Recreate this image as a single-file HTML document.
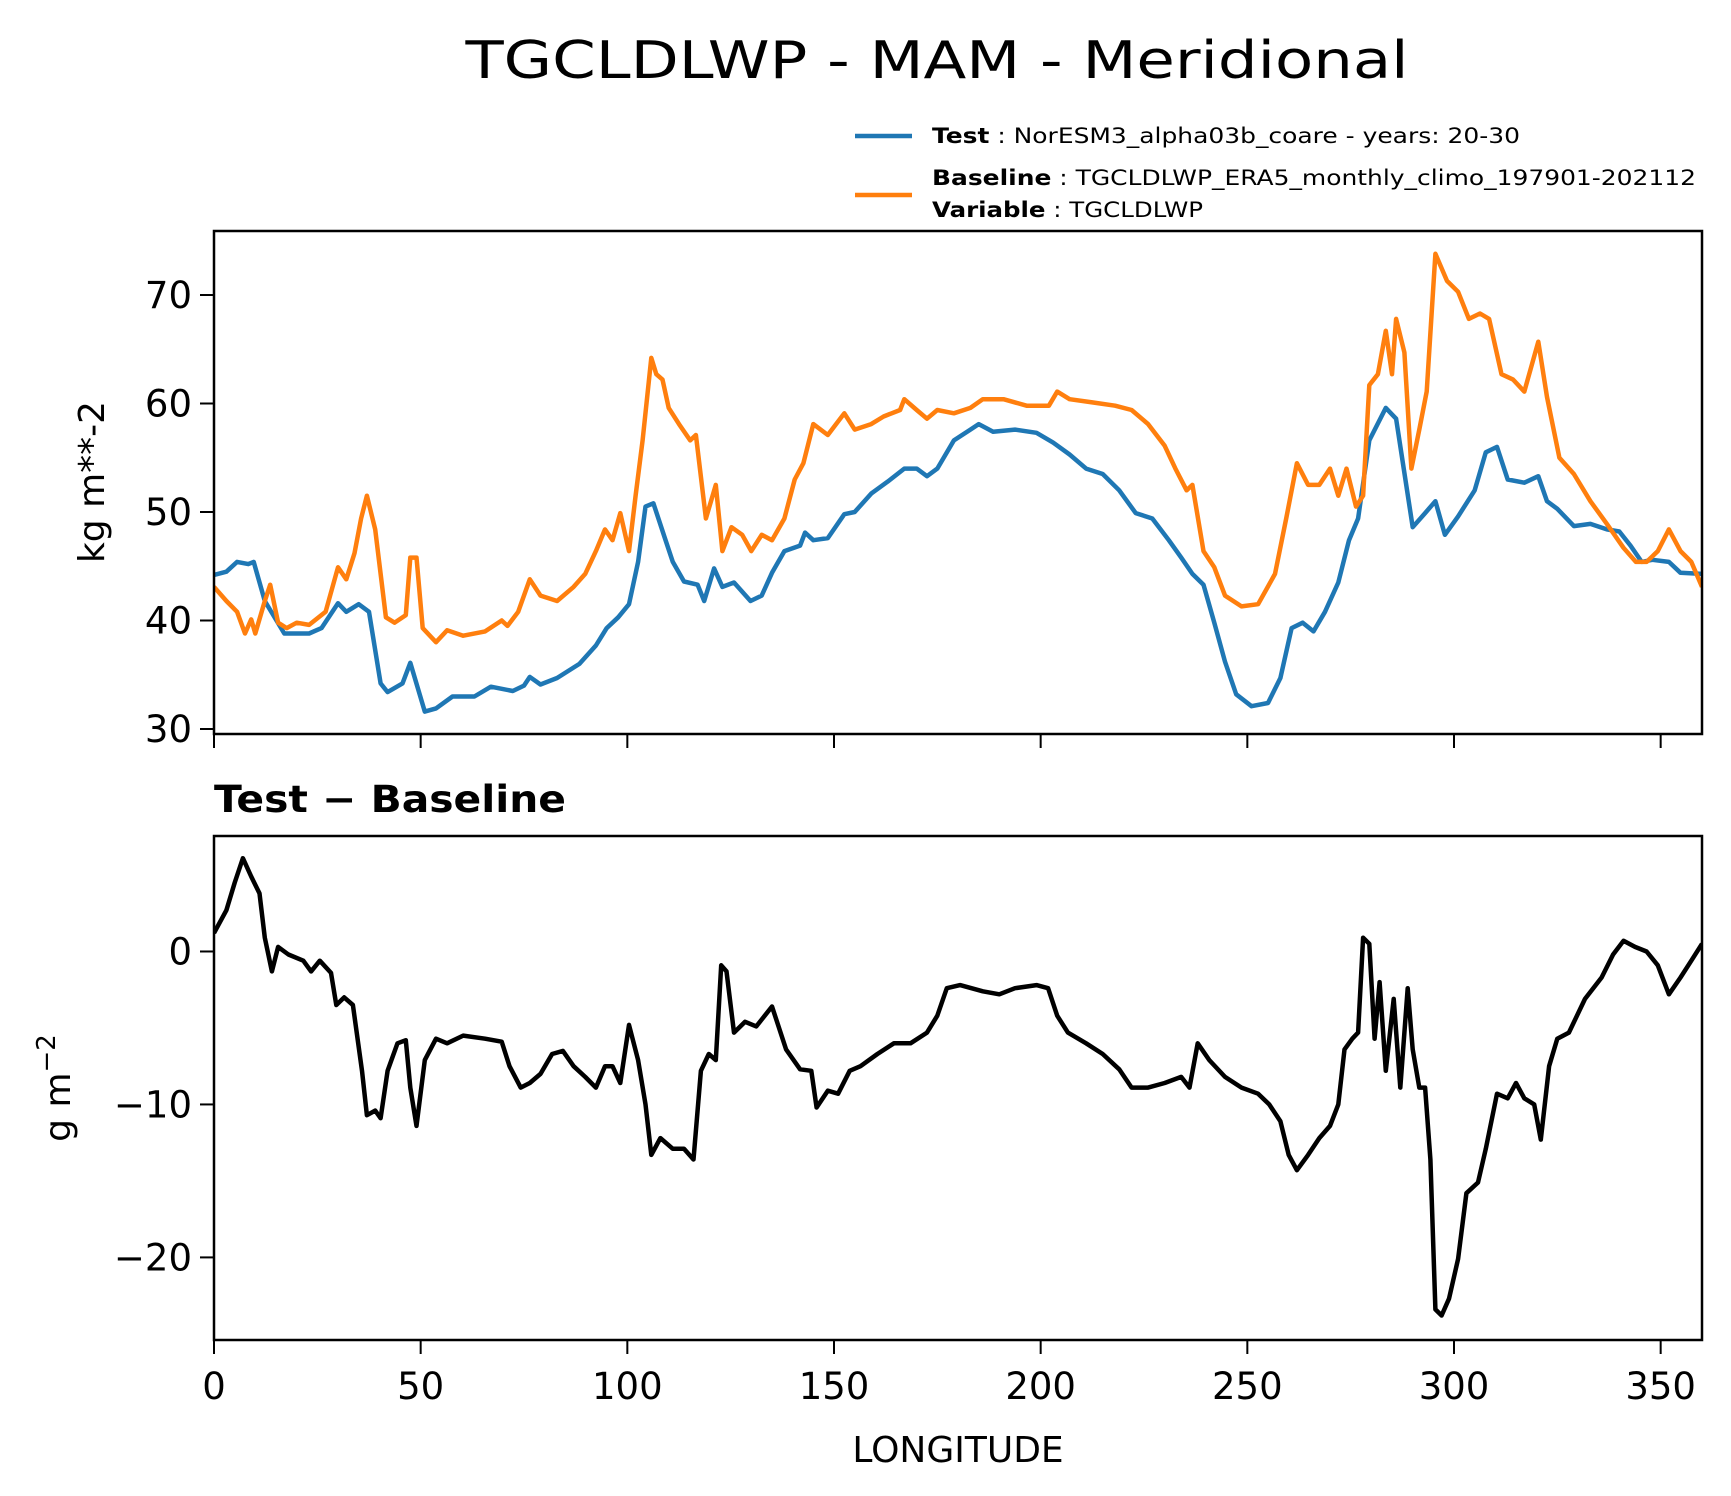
<!DOCTYPE html>
<html><head><meta charset="utf-8"><title>TGCLDLWP - MAM - Meridional</title>
<style>html,body{margin:0;padding:0;background:#fff}svg{display:block}text{font-family:"DejaVu Sans","Liberation Sans",sans-serif}</style>
</head><body>
<svg id="chart" width="1731" height="1496" viewBox="0 0 1731 1496" xmlns="http://www.w3.org/2000/svg">
<text x="937" y="78" font-size="52" text-anchor="middle" textLength="943" lengthAdjust="spacingAndGlyphs">TGCLDLWP - MAM - Meridional</text>
<g>
<line x1="855" y1="136" x2="912" y2="136" stroke="#1f77b4" stroke-width="4.5"/>
<text x="932" y="143" font-size="21" textLength="588" lengthAdjust="spacingAndGlyphs"><tspan font-weight="bold">Test</tspan> : NorESM3_alpha03b_coare - years: 20-30</text>
<line x1="855" y1="195" x2="912" y2="195" stroke="#ff7f0e" stroke-width="4.5"/>
<text x="932" y="185" font-size="21" textLength="764" lengthAdjust="spacingAndGlyphs"><tspan font-weight="bold">Baseline</tspan> : TGCLDLWP_ERA5_monthly_climo_197901-202112</text>
<text x="932" y="217" font-size="21" textLength="271" lengthAdjust="spacingAndGlyphs"><tspan font-weight="bold">Variable</tspan> : TGCLDLWP</text>
</g>
<g id="topPanel"></g>
<g id="botPanel"></g>
<text transform="translate(104,482) rotate(-90)" font-size="36" text-anchor="middle">kg m**-2</text>
<text transform="translate(70,1088) rotate(-90)" font-size="36" text-anchor="middle">g m<tspan baseline-shift="super" font-size="26">−2</tspan></text>
<text x="214" y="812" font-size="37" font-weight="bold" textLength="352" lengthAdjust="spacingAndGlyphs">Test − Baseline</text>
<text x="958" y="1462" font-size="36" text-anchor="middle">LONGITUDE</text>
</svg>
<script>
const testLon=[0,3,5.6,8.3,9.6,12.3,17,23,26,30,32,35,37.5,40.3,42,45.6,47.5,51,53.7,57.7,63,67,72.3,75,76.4,79,83,88.4,92.4,95,97.8,100.4,102.6,104.4,106.3,109,111,113.7,117,118.6,121,123,125.8,129.8,132.5,135,138,141.8,143,145,148.5,152.5,155,159,163,167,170,172.5,175,179,183,185,188.5,193.8,199,203,207,211,215,219,223,227,231,234,236.7,239.4,242,244.6,247.3,251,255,258,260.7,263.4,266,268.8,272,274.6,276.8,279.5,283.5,286,290,293,295.5,297.8,301,305,307.7,310.4,313,317,320.4,322.5,325,329,333,337,340,342.7,345.4,348,352,354.8,360];
const testVal=[44.2,44.5,45.4,45.2,45.4,41.8,38.8,38.8,39.3,41.6,40.8,41.5,40.8,34.2,33.4,34.2,36.1,31.6,31.9,33,33,33.9,33.5,34,34.8,34.1,34.7,36,37.7,39.3,40.3,41.5,45.4,50.5,50.8,47.7,45.4,43.6,43.3,41.8,44.8,43.1,43.5,41.8,42.3,44.4,46.4,46.9,48.1,47.4,47.6,49.8,50,51.7,52.8,54,54,53.3,54,56.6,57.6,58.1,57.4,57.6,57.3,56.4,55.3,54,53.5,52,49.9,49.4,47.4,45.8,44.3,43.3,39.8,36.2,33.2,32.1,32.4,34.7,39.3,39.8,39,40.8,43.5,47.4,49.4,56.6,59.6,58.6,48.6,49.9,51,47.9,49.6,52,55.5,56,53,52.7,53.3,51,50.3,48.7,48.9,48.4,48.2,46.9,45.4,45.6,45.4,44.4,44.3];
const baseLon=[0,3,5.6,7.5,9,10,12.3,13.6,15.5,17.6,20,23,27,30,32,34,35.6,37,39,41.6,43.7,46.4,47.5,49,50.5,53.7,56.4,60.3,65.6,69.6,71,73.6,76.4,79,83,87,89.8,92.4,94.6,96.4,98.3,100.4,102,103.7,105.8,107,108.5,110,112.5,115.2,116.6,119,121.4,123,125.2,127.8,130,132.5,135,138,140.5,142.6,145,148.5,152.5,155,159,162,166,167,170,172.5,175,179,183,186,191,196.6,202,204,207,212.5,218,222,226,230,232.6,235.3,236.7,239.4,242,244.6,248.6,252.6,256.7,259.4,262,264.7,267.4,270,272,274,276.3,278,279.5,281.6,283.5,285,286,288,289.7,291.6,293.4,295.5,298.3,301,303.6,306.3,308.5,311.5,314.3,317,320.4,322.5,325.5,329,333,337,341,344,346.6,349.3,352,354.8,357.4,360];
const baseVal=[43.1,41.8,40.8,38.8,40.1,38.8,41.8,43.3,39.8,39.3,39.8,39.6,40.8,44.9,43.8,46.2,49.4,51.5,48.4,40.3,39.8,40.5,45.8,45.8,39.3,38,39.1,38.6,39,40,39.5,40.8,43.8,42.3,41.8,43.1,44.3,46.4,48.4,47.4,49.9,46.4,51.5,56.6,64.2,62.7,62.2,59.6,58.1,56.6,57.1,49.4,52.5,46.4,48.6,47.9,46.4,47.9,47.4,49.4,53,54.5,58.1,57.1,59.1,57.6,58.1,58.8,59.4,60.4,59.4,58.6,59.4,59.1,59.6,60.4,60.4,59.8,59.8,61.1,60.4,60.1,59.8,59.4,58.1,56.1,54,52,52.5,46.4,44.9,42.3,41.3,41.5,44.3,49.4,54.5,52.5,52.5,54,51.5,54,50.5,51.5,61.7,62.7,66.7,62.7,67.8,64.7,54,57.6,61.1,73.8,71.3,70.3,67.8,68.3,67.8,62.7,62.2,61.1,65.7,60.6,55,53.5,51,48.9,46.7,45.4,45.4,46.4,48.4,46.4,45.4,43.1];
const diffLon=[0,3,5,7,9,11,12.3,14,15.5,18,21.6,23.5,25.6,28.3,29.6,31.5,33.6,35.8,37,39,40.3,42,44.4,46.4,47.5,49,51,53.7,56.4,60.3,65.6,69.6,71.5,74.2,76.4,79,81.8,84.4,87,89.8,92.4,94.6,96.4,98.3,100.4,102.6,104.4,105.8,108,111,113.7,116,117.8,119.7,121.4,122.7,124,125.8,128.5,131.2,135,138.4,141.8,144.5,145.8,148.5,151,153.8,156.4,160.5,164.5,168.5,172.5,175,177.3,180.5,186,190,193.8,199,201.8,204,206.6,211,215,219,222,226,230,234,236,238,240.8,244.6,248.6,252.6,255.3,258,260,262,264.7,267.4,270,272,273.5,275.4,276.8,278,279.5,280.8,282,283.5,285.4,287,288.8,290,291.6,293,294.3,295.5,297,298.8,301,303,305.8,307.7,310.4,313,315,317,319.4,321,323,325,327.8,331.7,335.7,338.5,341,343.8,346.6,349.3,352,354.8,357.4,360];
const diffVal=[1.2,2.7,4.5,6.1,4.9,3.8,0.9,-1.3,0.3,-0.2,-0.6,-1.3,-0.6,-1.4,-3.5,-3,-3.5,-7.8,-10.7,-10.4,-10.9,-7.8,-6,-5.8,-8.9,-11.4,-7.1,-5.7,-6,-5.5,-5.7,-5.9,-7.5,-8.9,-8.6,-8,-6.7,-6.5,-7.5,-8.2,-8.9,-7.5,-7.5,-8.6,-4.8,-7.1,-10,-13.3,-12.2,-12.9,-12.9,-13.6,-7.8,-6.7,-7.1,-0.9,-1.3,-5.3,-4.6,-4.9,-3.6,-6.4,-7.7,-7.8,-10.2,-9.1,-9.3,-7.8,-7.5,-6.7,-6,-6,-5.3,-4.2,-2.4,-2.2,-2.6,-2.8,-2.4,-2.2,-2.4,-4.2,-5.3,-6,-6.7,-7.7,-8.9,-8.9,-8.6,-8.2,-8.9,-6,-7.1,-8.2,-8.9,-9.3,-10,-11.1,-13.3,-14.3,-13.3,-12.2,-11.4,-10,-6.4,-5.7,-5.3,0.9,0.5,-5.7,-2,-7.8,-3.1,-8.9,-2.4,-6.4,-8.9,-8.9,-13.6,-23.4,-23.8,-22.7,-20.1,-15.8,-15.1,-12.9,-9.3,-9.6,-8.6,-9.6,-10,-12.3,-7.5,-5.7,-5.3,-3.1,-1.7,-0.2,0.7,0.3,0,-0.9,-2.8,-1.7,-0.6,0.5];
const xTicks=[0,50,100,150,200,250,300,350];
const topTicks=[30,40,50,60,70];
const botTicks=[0,-10,-20];
const botTickLabels=["0","−10","−20"];

const NS='http://www.w3.org/2000/svg';
const X0=214,X1=1702;
const xs=v=>X0+(v-0)/(360-0)*(X1-X0);
const T0=231,T1=734,TMIN=29.54,TMAX=75.9;
const ysT=v=>T1-(v-TMIN)/(TMAX-TMIN)*(T1-T0);
const B0=836,B1=1340,BMIN=-25.4,BMAX=7.55;
const ysB=v=>B1-(v-BMIN)/(BMAX-BMIN)*(B1-B0);
function mk(tag,attrs,parent){const e=document.createElementNS(NS,tag);for(const k in attrs)e.setAttribute(k,attrs[k]);parent.appendChild(e);return e;}
function pathD(lons,vals,ys){return lons.map((l,i)=>(i?'L':'M')+xs(l).toFixed(1)+','+ys(vals[i]).toFixed(1)).join('');}

const topG=document.getElementById('topPanel'), botG=document.getElementById('botPanel');
const defs=mk('defs',{},topG);
const c1=mk('clipPath',{id:'c1'},defs);mk('rect',{x:X0,y:T0,width:X1-X0,height:T1-T0},c1);
const c2=mk('clipPath',{id:'c2'},defs);mk('rect',{x:X0,y:B0,width:X1-X0,height:B1-B0},c2);

let p=mk('path',{d:pathD(testLon,testVal,ysT),fill:'none',stroke:'#1f77b4','stroke-width':4.5,'stroke-linejoin':'round','clip-path':'url(#c1)'},topG);


p=mk('path',{d:pathD(baseLon,baseVal,ysT),fill:'none',stroke:'#ff7f0e','stroke-width':4.5,'stroke-linejoin':'round','clip-path':'url(#c1)'},topG);


p=mk('path',{d:pathD(diffLon,diffVal,ysB),fill:'none',stroke:'#000','stroke-width':4.5,'stroke-linejoin':'round','clip-path':'url(#c2)'},botG);



let r=mk('rect',{x:X0,y:T0,width:X1-X0,height:T1-T0,fill:'none',stroke:'#000','stroke-width':2.5},topG);


r=mk('rect',{x:X0,y:B0,width:X1-X0,height:B1-B0,fill:'none',stroke:'#000','stroke-width':2.5},botG);



xTicks.forEach(v=>{
  let t=mk('line',{x1:xs(v),x2:xs(v),y1:T1,y2:T1+14,stroke:'#000','stroke-width':2},topG);
  
  
  t=mk('line',{x1:xs(v),x2:xs(v),y1:B1,y2:B1+14,stroke:'#000','stroke-width':2},botG);
  
  
  const tx=mk('text',{x:xs(v),y:1399,'font-size':37,'text-anchor':'middle'},botG);
  tx.textContent=v;
  
  
});
topTicks.forEach(v=>{
  const t=mk('line',{x1:X0-14,x2:X0,y1:ysT(v),y2:ysT(v),stroke:'#000','stroke-width':2},topG);
  
  
  const tx=mk('text',{x:X0-22,y:ysT(v)+13,'font-size':37,'text-anchor':'end'},topG);
  tx.textContent=v;
  
  
});
botTicks.forEach((v,i)=>{
  const t=mk('line',{x1:X0-14,x2:X0,y1:ysB(v),y2:ysB(v),stroke:'#000','stroke-width':2},botG);
  
  
  const tx=mk('text',{x:X0-22,y:ysB(v)+13,'font-size':37,'text-anchor':'end'},botG);
  tx.textContent=botTickLabels[i];
  
  
});
</script>
</body></html>
